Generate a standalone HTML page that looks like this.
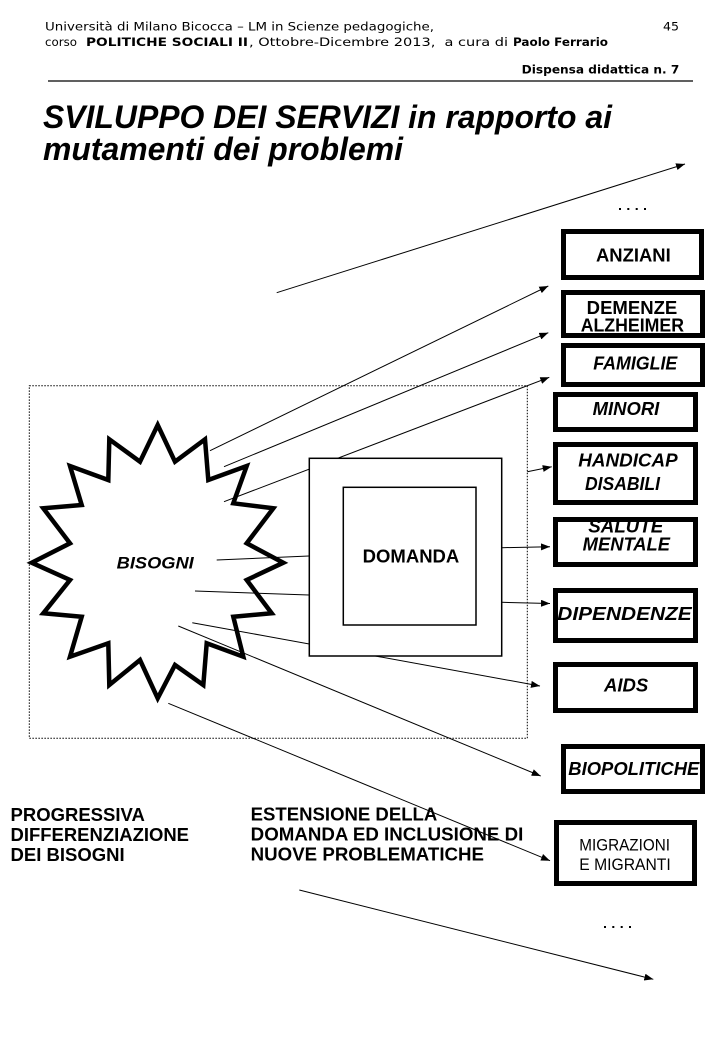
<!DOCTYPE html>
<html>
<head>
<meta charset="utf-8">
<style>
  html,body{margin:0;padding:0;background:#fff;}
  svg{display:block;}
  .hdr{font-family:"DejaVu Sans","Liberation Sans",sans-serif;font-size:11.5px;fill:#000;white-space:pre;}
  .ar{font-family:"Liberation Sans",Arial,sans-serif;font-weight:bold;fill:#000;white-space:pre;}
  .it{font-style:italic;}
</style>
</head>
<body>
<svg width="720" height="1040" viewBox="0 0 720 1040" xmlns="http://www.w3.org/2000/svg">
  <defs>
    <marker id="ah" markerUnits="userSpaceOnUse" markerWidth="10" markerHeight="8" refX="9" refY="3.5" orient="auto">
      <path d="M0,0 L9,3.5 L0,7 z" fill="#000"/>
    </marker>
  </defs>
  <rect x="0" y="0" width="720" height="1040" fill="#fff"/>

  <!-- Header -->
  <text class="hdr" x="45" y="30.5" textLength="389" lengthAdjust="spacingAndGlyphs">Università di Milano Bicocca – LM in Scienze pedagogiche,</text>
  <text class="hdr" x="663" y="30.5" textLength="16" lengthAdjust="spacingAndGlyphs">45</text>
  <text class="hdr" x="45" y="46" textLength="32" lengthAdjust="spacingAndGlyphs">corso</text>
  <text class="hdr" x="86" y="46" font-weight="bold" textLength="162" lengthAdjust="spacingAndGlyphs">POLITICHE SOCIALI II</text>
  <text class="hdr" x="249" y="46" textLength="259" lengthAdjust="spacingAndGlyphs">, Ottobre-Dicembre 2013,  a cura di</text>
  <text class="hdr" x="513" y="46" font-weight="bold" textLength="95" lengthAdjust="spacingAndGlyphs">Paolo Ferrario</text>
  <text class="hdr" x="521.7" y="73.5" font-weight="bold" textLength="157.6" lengthAdjust="spacingAndGlyphs">Dispensa didattica n. 7</text>
  <line x1="48" y1="81" x2="693" y2="81" stroke="#000" stroke-width="1.3"/>

  <!-- Title -->
  <text class="ar it" x="43" y="128" font-size="32" textLength="569" lengthAdjust="spacingAndGlyphs">SVILUPPO DEI SERVIZI in rapporto ai</text>
  <text class="ar it" x="43" y="160" font-size="32" textLength="360" lengthAdjust="spacingAndGlyphs">mutamenti dei problemi</text>

  <!-- Top long arrow and dots -->
  <line x1="276.7" y1="292.7" x2="685" y2="164" stroke="#000" stroke-width="1" marker-end="url(#ah)"/>
  <rect x="619" y="208" width="2" height="2" fill="#000"/>
  <rect x="627.3" y="208" width="2" height="2" fill="#000"/>
  <rect x="635.7" y="208" width="2" height="2" fill="#000"/>
  <rect x="644" y="208" width="2" height="2" fill="#000"/>

  <!-- Dotted rect -->
  <rect x="29.3" y="385.7" width="498" height="352.6" fill="none" stroke="#000" stroke-width="1" stroke-dasharray="1.5 1.5"/>

  <!-- Star -->
  <polygon points="157.7,425 175,461.7 205,439.3 208.3,480 246.7,466 233.3,503.3 273.3,508.3 246.7,543.3 283.3,562.7 246.7,580 271.7,613.3 233.3,616.7 243.3,656.7 206.7,643.3 203.3,685 175,665 157.7,698.3 140,660 109.3,685 108.3,643.3 70,656.7 81.7,616.7 43.3,613.3 70,580 31.7,562.7 70,543.3 43.3,508.3 81.7,505 70,466 108.3,480 109.3,439.3 140,461.7" fill="none" stroke="#000" stroke-width="4.5" stroke-linejoin="miter"/>
  <text class="ar it" x="116.7" y="568.3" font-size="16.5" textLength="77" lengthAdjust="spacingAndGlyphs">BISOGNI</text>

  <!-- Connectors from star -->
  <line x1="210" y1="450.7" x2="548.3" y2="286" stroke="#000" stroke-width="1" marker-end="url(#ah)"/>
  <line x1="224" y1="466.7" x2="548.3" y2="332.7" stroke="#000" stroke-width="1" marker-end="url(#ah)"/>
  <line x1="224" y1="501.7" x2="549.3" y2="377.3" stroke="#000" stroke-width="1" marker-end="url(#ah)"/>
  <line x1="216.7" y1="560" x2="309" y2="556" stroke="#000" stroke-width="1"/>
  <line x1="195" y1="591" x2="309" y2="595" stroke="#000" stroke-width="1"/>
  <line x1="192.3" y1="622.7" x2="540" y2="686" stroke="#000" stroke-width="1" marker-end="url(#ah)"/>
  <line x1="178.3" y1="626" x2="540.7" y2="776" stroke="#000" stroke-width="1" marker-end="url(#ah)"/>
  <line x1="168.3" y1="703.3" x2="550" y2="860.7" stroke="#000" stroke-width="1" marker-end="url(#ah)"/>

  <!-- DOMANDA box -->
  <rect x="309.3" y="458.3" width="192.4" height="197.7" fill="#fff" stroke="#000" stroke-width="1.5"/>
  <rect x="343.3" y="487.3" width="132.7" height="137.7" fill="#fff" stroke="#000" stroke-width="1.5"/>
  <text class="ar" x="362.7" y="562.7" font-size="18" textLength="96.6" lengthAdjust="spacingAndGlyphs">DOMANDA</text>

  <!-- Right short arrows -->
  <line x1="527.3" y1="471.7" x2="551.7" y2="466.7" stroke="#000" stroke-width="1" marker-end="url(#ah)"/>
  <line x1="501.7" y1="547.7" x2="550" y2="546.7" stroke="#000" stroke-width="1" marker-end="url(#ah)"/>
  <line x1="501.7" y1="602.3" x2="550" y2="603.5" stroke="#000" stroke-width="1" marker-end="url(#ah)"/>

  <!-- Right boxes -->
  <g fill="#fff" stroke="#000" stroke-width="5">
    <rect x="563.5" y="231.5" width="138" height="46"/>
    <rect x="563.5" y="292.5" width="139" height="43"/>
    <rect x="563.5" y="345.5" width="139" height="39"/>
    <rect x="555.5" y="394.5" width="140" height="35"/>
    <rect x="555.5" y="444.5" width="140" height="58"/>
    <rect x="555.5" y="519.5" width="140" height="45"/>
    <rect x="555.5" y="590.5" width="140" height="50"/>
    <rect x="555.5" y="664.5" width="140" height="46"/>
    <rect x="563.5" y="746.5" width="139" height="45"/>
    <rect x="556.5" y="822.5" width="138" height="61"/>
  </g>

  <text class="ar" x="596" y="261.7" font-size="18" textLength="74.7" lengthAdjust="spacingAndGlyphs">ANZIANI</text>
  <text class="ar" x="586.7" y="314" font-size="18" textLength="90.6" lengthAdjust="spacingAndGlyphs">DEMENZE</text>
  <text class="ar" x="580.7" y="331.7" font-size="18" textLength="103.3" lengthAdjust="spacingAndGlyphs">ALZHEIMER</text>
  <text class="ar it" x="593.3" y="369.3" font-size="18" textLength="84" lengthAdjust="spacingAndGlyphs">FAMIGLIE</text>
  <text class="ar it" x="592.7" y="415" font-size="18" textLength="66.6" lengthAdjust="spacingAndGlyphs">MINORI</text>
  <text class="ar it" x="578.3" y="466.7" font-size="18" textLength="99.4" lengthAdjust="spacingAndGlyphs">HANDICAP</text>
  <text class="ar it" x="585" y="490" font-size="18" textLength="75" lengthAdjust="spacingAndGlyphs">DISABILI</text>
  <text class="ar it" x="588.3" y="532.5" font-size="18" textLength="75" lengthAdjust="spacingAndGlyphs">SALUTE</text>
  <text class="ar it" x="582.7" y="550.5" font-size="18" textLength="87.3" lengthAdjust="spacingAndGlyphs">MENTALE</text>
  <text class="ar it" x="557.3" y="620" font-size="18" textLength="134.4" lengthAdjust="spacingAndGlyphs">DIPENDENZE</text>
  <text class="ar it" x="604" y="691.7" font-size="18" textLength="44.3" lengthAdjust="spacingAndGlyphs">AIDS</text>
  <text class="ar it" x="568.3" y="775" font-size="18" textLength="131" lengthAdjust="spacingAndGlyphs">BIOPOLITICHE</text>
  <text x="579.3" y="850.7" font-family="Liberation Sans, Arial, sans-serif" font-size="17" textLength="90.7" lengthAdjust="spacingAndGlyphs">MIGRAZIONI</text>
  <text x="579.3" y="870" font-family="Liberation Sans, Arial, sans-serif" font-size="17" textLength="91.4" lengthAdjust="spacingAndGlyphs">E MIGRANTI</text>

  <!-- Bottom captions -->
  <text class="ar" x="10.5" y="821" font-size="18.5">PROGRESSIVA</text>
  <text class="ar" x="10.5" y="841" font-size="18.5" textLength="178.5" lengthAdjust="spacingAndGlyphs">DIFFERENZIAZIONE</text>
  <text class="ar" x="10.5" y="861" font-size="18.5">DEI BISOGNI</text>
  <text class="ar" x="250.7" y="820.7" font-size="18.5" textLength="186.6" lengthAdjust="spacingAndGlyphs">ESTENSIONE DELLA</text>
  <text class="ar" x="250.7" y="840.7" font-size="18.5" textLength="272.6" lengthAdjust="spacingAndGlyphs">DOMANDA ED INCLUSIONE DI</text>
  <text class="ar" x="250.7" y="860.7" font-size="18.5" textLength="233.3" lengthAdjust="spacingAndGlyphs">NUOVE PROBLEMATICHE</text>

  <!-- Bottom dots and long arrow -->
  <rect x="604" y="926" width="2" height="2" fill="#000"/>
  <rect x="612.3" y="926" width="2" height="2" fill="#000"/>
  <rect x="620.7" y="926" width="2" height="2" fill="#000"/>
  <rect x="629" y="926" width="2" height="2" fill="#000"/>
  <line x1="299.3" y1="890" x2="653.3" y2="979.3" stroke="#000" stroke-width="1" marker-end="url(#ah)"/>
</svg>
</body>
</html>
